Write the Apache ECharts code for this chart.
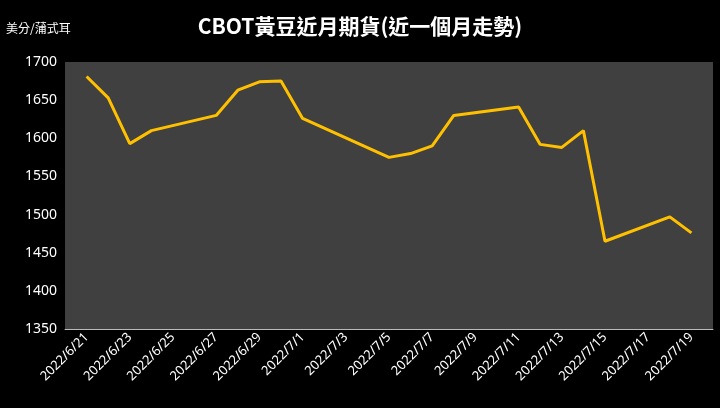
<!DOCTYPE html>
<html><head><meta charset="utf-8">
<script src="https://cdn.jsdelivr.net/npm/echarts@6/dist/echarts.min.js"></script>
<style>html,body{margin:0;background:#000;}#c{width:720px;height:408px;}</style>
</head><body><div id="c"></div>
<script>
const dates = ['2022/6/20','2022/6/21','2022/6/22','2022/6/23','2022/6/24','2022/6/25','2022/6/26','2022/6/27','2022/6/28','2022/6/29','2022/6/30','2022/7/1','2022/7/2','2022/7/3','2022/7/4','2022/7/5','2022/7/6','2022/7/7','2022/7/8','2022/7/9','2022/7/10','2022/7/11','2022/7/12','2022/7/13','2022/7/14','2022/7/15','2022/7/16','2022/7/17','2022/7/18','2022/7/19','2022/7/20'];
const prices = [null,1681,1653,1593,1610,null,null,1630,1663,1674,1675,1626,null,null,null,1575,1580,1590,1630,null,null,1641,1592,1588,1610,1465,null,null,1497,1476,null];
const yTicks = {min:1350,max:1700,interval:50};
const chart = echarts.init(document.getElementById('c'));
chart.setOption({
  backgroundColor:'#000',
  title:{text:'CBOT黃豆近月期貨(近一個月走勢)',left:'center',top:11,textStyle:{color:'#fff',fontSize:21,fontWeight:'bold',fontFamily:'Noto Sans CJK TC'}},
  graphic:[{type:'text',left:6,top:22,style:{text:'美分/蒲式耳',fill:'#fff',font:'12px "Noto Sans CJK TC"'}}],
  grid:{left:65,right:7,top:62,bottom:79,show:true,backgroundColor:'#404040',borderWidth:0},
  xAxis:{type:'category',data:dates,boundaryGap:false,
    axisLine:{lineStyle:{color:'#bbb'}},axisTick:{show:false},
    axisLabel:{color:'#fff',fontSize:13,rotate:45,fontFamily:'Noto Sans',interval:(i)=>i%2===1,margin:6}},
  yAxis:{type:'value',min:yTicks.min,max:yTicks.max,interval:yTicks.interval,
    splitLine:{show:false},axisLine:{show:false},axisTick:{show:false},
    axisLabel:{color:'#fff',fontSize:14,fontFamily:'Noto Sans',margin:8,formatter:(v)=>String(v)}},
  series:[{type:'line',data:prices,connectNulls:true,showSymbol:false,lineStyle:{color:'#FFC000',width:3},itemStyle:{color:'#FFC000'}}]
});
</script></body></html>
